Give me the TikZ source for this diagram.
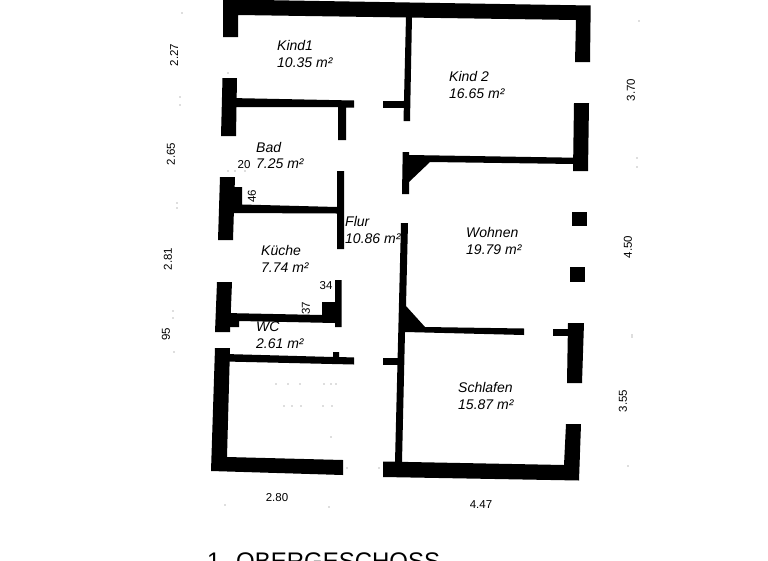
\documentclass[tikz,border=0pt]{standalone}
\usepackage{fontspec}
\setmainfont{Liberation Sans}
\usepackage{tikz}
\tikzset{
  room/.style={font=\itshape\fontsize{14}{17}\selectfont, align=left, inner sep=0pt},
  dimen/.style={font=\fontsize{11.5}{12}\selectfont, inner sep=0pt},
  speck/.style={fill=black!55}
}
\begin{document}
\begin{tikzpicture}[x=1pt, y=-1pt]
   \useasboundingbox[fill=white] (0,0) rectangle (768,560);
   \clip (0,0) rectangle (768,560);

   % outer walls
   \fill (223,-0.6) -- (590.7,5.5) -- (590,62) -- (575,62) -- (576,20) -- (238,15) -- (238,37) -- (223,37) -- cycle;
   \fill (574,103) -- (589,103) -- (588,171) -- (573,171) -- cycle;
   \fill (572,212) rectangle (587,226);
   \fill (570,267) rectangle (585,282);
   \fill (568,323) -- (584,323) -- (582,383) -- (567,383) -- cycle;
   \fill (383,461.5) -- (564,465) -- (566,424) -- (581,424) -- (579,480.5) -- (383,477) -- cycle;
   \fill (215,348) -- (230,348) -- (227,457) -- (343,460) -- (343,475) -- (211,471) -- cycle;
   \fill (217,282) -- (232,282) -- (230,332) -- (215,332) -- cycle;
   \fill (220,177) -- (235,177) -- (233,240) -- (218,240) -- cycle;
   \fill (222.5,78) -- (237,78) -- (236,136) -- (221,136) -- cycle;

   % inner walls
   \fill (406,16) -- (412,16) -- (410,121) -- (403.5,121) -- cycle;
   \fill (383,101) rectangle (405,108);
   \fill (230,98) -- (354,100.5) -- (354,107.5) -- (346,107.5) -- (346,140) -- (338,140) -- (338,107) -- (230,107) -- cycle;
   \fill (230,187) -- (242,187) -- (242,204.5) -- (337,207) -- (337,171) -- (344,171) -- (344,249) -- (337,249) -- (337,213.5) -- (230,213) -- cycle;
   \fill (402.7,152) -- (409,152) -- (409,155) -- (574,157.7) -- (574,164) -- (430,162) -- (409,182) -- (409,194) -- (402,194) -- cycle;
   \fill (401,223) -- (408,223) -- (406,306) -- (425,327) -- (524,328.5) -- (524,335) -- (405,332) -- (402,462) -- (395,462) -- cycle;
   \fill (553,329) rectangle (569,336);
   \fill (383,358) rectangle (399,365);
   \fill (225,313) -- (322,315) -- (322,302) -- (335,302) -- (335,280) -- (341.5,280) -- (341.5,327) -- (335,327) -- (335,323) -- (239,321) -- (239,327) -- (225,327) -- cycle;
   \fill (225,354) -- (333,357) -- (333,352) -- (339,352) -- (339,357) -- (354,357.5) -- (354,364.5) -- (225,361.5) -- cycle;

   % room names
   \node[room, anchor=north west] (kind1) at (277,40) {Kind1\\10.35 m²};
   \node[room, anchor=north west] (kind2) at (449,71) {Kind 2\\16.65 m²};
   \node[room, anchor=north west] (bad) at (256,142) {Bad};
   \node[room, anchor=north west] (badarea) at (256,159) {7.25 m²};
   \node[room, anchor=north west] (kueche) at (261,245) {Küche\\7.74 m²};
   \node[room, anchor=north west] (flur) at (345,216) {Flur\\10.86 m²};
   \node[room, anchor=north west] (wohnen) at (466,227) {Wohnen\\19.79 m²};
   \node[room, anchor=north west] (wc) at (256,322) {WC\\2.61 m²};
   \node[room, anchor=north west] (schlafen) at (458,382) {Schlafen\\15.87 m²};

   % dimensions
   \node[dimen, rotate=90] (dima) at (174,55) {2.27};
   \node[dimen, rotate=90] (dimb) at (171,154) {2.65};
   \node[dimen, rotate=90] (dimc) at (168,259) {2.81};
   \node[dimen, rotate=90] (dimd) at (166,334) {95};
   \node[dimen, rotate=90] (dime) at (631,90) {3.70};
   \node[dimen, rotate=90] (dimf) at (628,247) {4.50};
   \node[dimen, rotate=90] (dimg) at (623,401) {3.55};
   \node[dimen] (dimh) at (277,498) {2.80};
   \node[dimen] (dimi) at (481,505) {4.47};
   \node[dimen] (dimj) at (244,165) {20};
   \node[dimen, rotate=90] (dimk) at (252,196) {46};
   \node[dimen] (diml) at (326,286) {34};
   \node[dimen, rotate=90] (dimm) at (306,308) {37};

   % title, cut off by the page
   \node[inner sep=0pt, anchor=base west, font=\fontsize{24}{26}\selectfont] (title) at (207,569) {1. OBERGESCHOSS};

   % specks
   \foreach \x/\y in {182/13, 180/97, 180/105, 177/203, 177/208, 173/311, 173/318, 174/352, 639/21, 637/158, 637/167, 632/335, 632/337, 628/466, 225/505, 329/507, 228/73, 228/171, 235/171, 245/171, 276/384, 288/384, 300/384, 324/384, 331/384, 336/384, 284/406, 292/406, 301/406, 323/406, 332/406, 331/437, 347/468, 379/468}
      \fill[speck] (\x,\y) circle (0.7);
\end{tikzpicture}
\end{document}
